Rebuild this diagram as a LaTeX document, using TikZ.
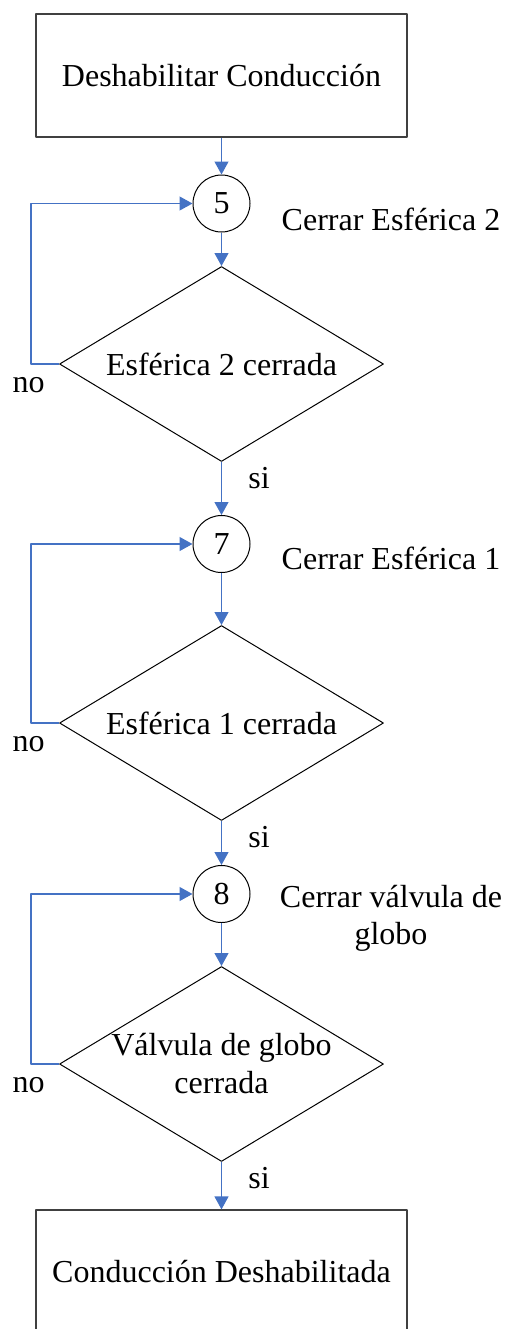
\documentclass[tikz,border=0pt]{standalone}
\usepackage{fontspec}
\setmainfont{Liberation Serif}
\usetikzlibrary{arrows.meta,shapes.geometric}
\definecolor{FlowBlue}{HTML}{4472C4}
\definecolor{BoxGray}{HTML}{404040}

\begin{document}
\begin{tikzpicture}[x=0.5pt,y=-0.5pt,line join=round,
  font=\fontsize{16}{19}\selectfont,
  stepbox/.style={draw=BoxGray,line width=0.6pt,minimum width=185.5pt,minimum height=61.5pt,inner sep=0pt},
  pointnode/.style={draw,circle,line width=0.5pt,minimum size=28.5pt,inner sep=0pt},
  checknode/.style={draw,diamond,line width=0.5pt,minimum width=162pt,minimum height=97.5pt,inner sep=0pt},
  flow/.style={FlowBlue,line width=0.6pt,-{Triangle[width=7pt,length=6.5pt]}}]
  \useasboundingbox (0,0) rectangle (507,1329);
  % boxes and steps
  \node[stepbox] (start) at (221.5,75.5) {Deshabilitar Conducción};
  \node[pointnode] (p5) at (221.5,203.5) {5};
  \node[checknode,label={center:Esférica 2 cerrada}] (d5) at (221.5,364) {};
  \node[pointnode] (p7) at (221.5,544) {7};
  \node[checknode,label={center:Esférica 1 cerrada}] (d7) at (221.5,723) {};
  \node[pointnode] (p8) at (221.5,894) {8};
  \node[checknode,label={[align=center]center:{Válvula de globo\\cerrada}}] (d8) at (221.5,1064) {};
  \node[stepbox] (stop) at (221.5,1271.5) {Conducción Deshabilitada};
  % side texts
  \node[anchor=base] (a5) at (391,230) {Cerrar Esférica 2};
  \node[anchor=base] (a7) at (391,569) {Cerrar Esférica 1};
  \node[anchor=north,align=center,font=\fontsize{16}{18.5}\selectfont] (a8) at (391,878) {Cerrar válvula de\\globo};
  \node[anchor=base] (no5) at (28.5,392) {no};
  \node[anchor=base] (no7) at (28.5,751) {no};
  \node[anchor=base] (no8) at (28.5,1092) {no};
  \node[anchor=base] (si5) at (259,488) {si};
  \node[anchor=base] (si7) at (259,847) {si};
  \node[anchor=base] (si8) at (259,1188) {si};
  % connectors
  \draw[flow] (start) -- (p5);
  \draw[flow] (p5) -- (d5);
  \draw[flow] (d5) -- (p7);
  \draw[flow] (p7) -- (d7);
  \draw[flow] (d7) -- (p8);
  \draw[flow] (p8) -- (d8);
  \draw[flow] (d8) -- (stop);
  \draw[flow] (d5.west) -- ++(-28,0) |- (p5.west);
  \draw[flow] (d7.west) -- ++(-28,0) |- (p7.west);
  \draw[flow] (d8.west) -- ++(-28,0) |- (p8.west);
\end{tikzpicture}
\end{document}
